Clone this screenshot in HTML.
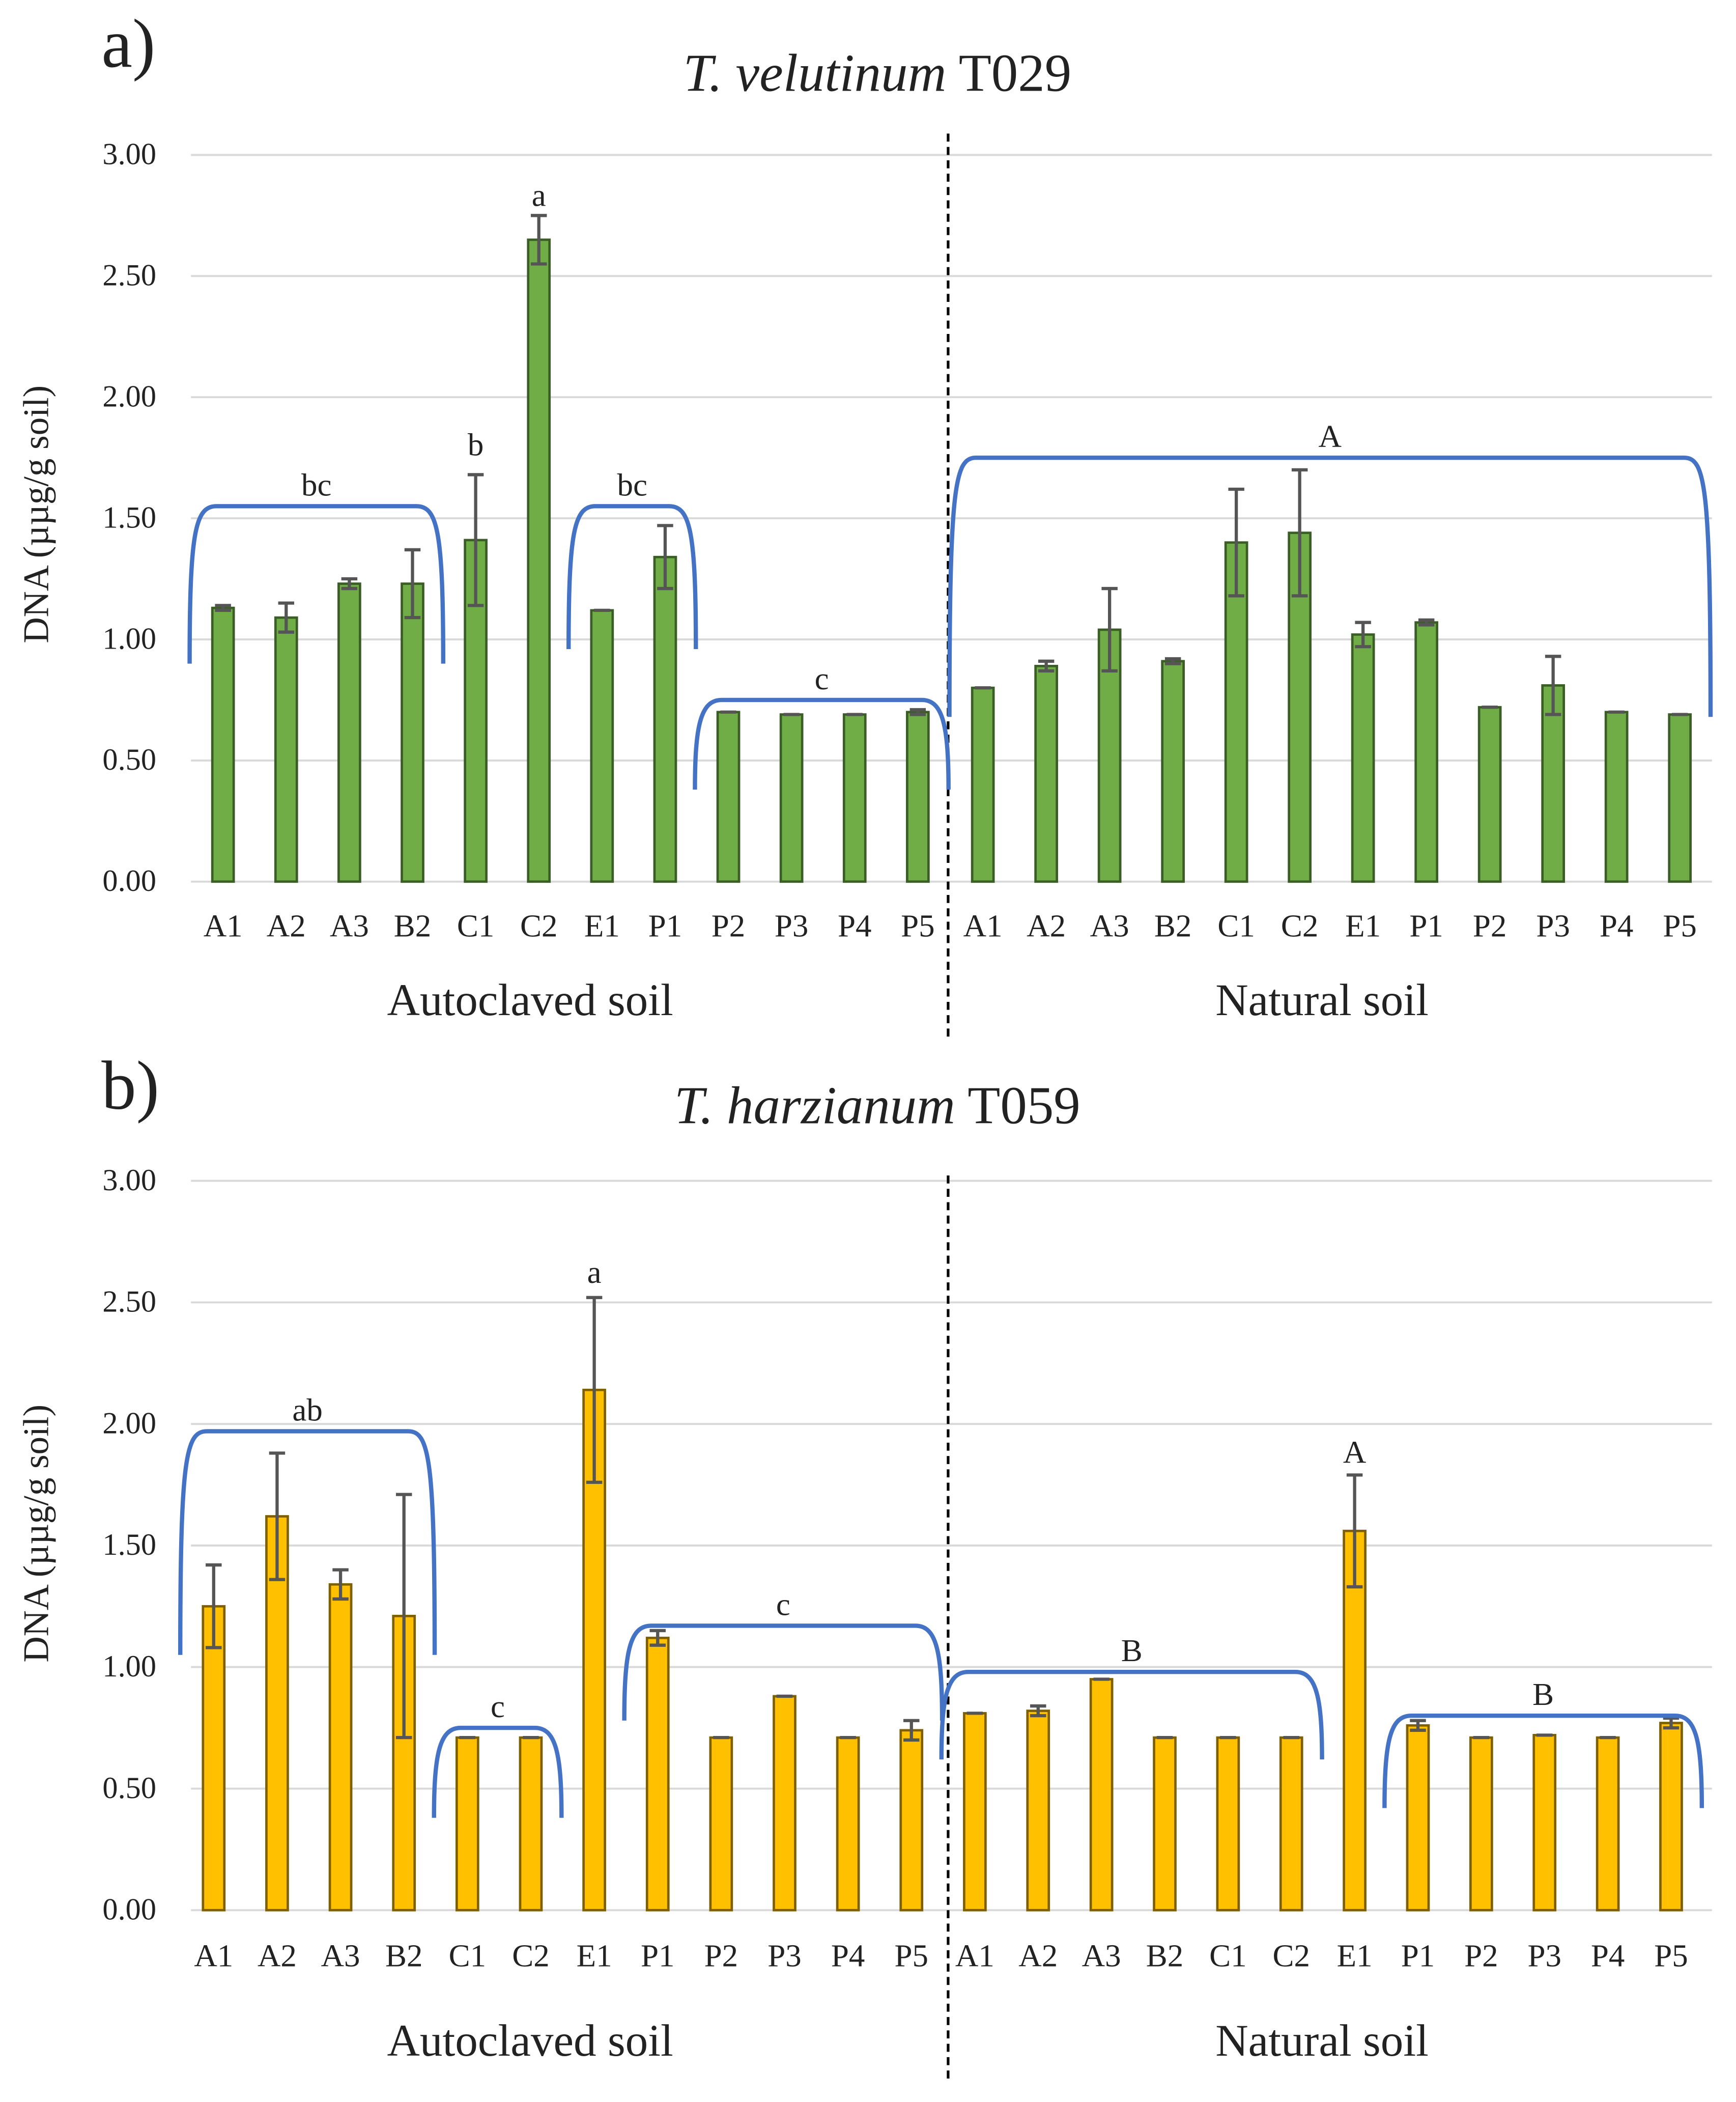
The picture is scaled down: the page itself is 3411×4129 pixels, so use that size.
<!DOCTYPE html>
<html><head><meta charset="utf-8"><style>
html,body{margin:0;padding:0;background:#fff}
svg{display:block}
text{font-family:"Liberation Serif",serif;fill:#222}
</style></head><body>
<svg id="fig" width="3411" height="4129" viewBox="0 0 1300 1573.6" preserveAspectRatio="none" xmlns="http://www.w3.org/2000/svg"></svg>
<script>
const categories = ["A1","A2","A3","B2","C1","C2","E1","P1","P2","P3","P4","P5"];
const yTicks = [0,0.5,1,1.5,2,2.5,3];
const tickLabels = ["0.00","0.50","1.00","1.50","2.00","2.50","3.00"];
const aAutoVals = [1.13,1.09,1.23,1.23,1.41,2.65,1.12,1.34,0.70,0.69,0.69,0.70];
const aAutoErr  = [0.01,0.06,0.02,0.14,0.27,0.10,0.00,0.13,0.00,0.00,0.00,0.01];
const aNatVals  = [0.80,0.89,1.04,0.91,1.40,1.44,1.02,1.07,0.72,0.81,0.70,0.69];
const aNatErr   = [0.00,0.02,0.17,0.01,0.22,0.26,0.05,0.01,0.00,0.12,0.00,0.00];
const bAutoVals = [1.25,1.62,1.34,1.21,0.71,0.71,2.14,1.12,0.71,0.88,0.71,0.74];
const bAutoErr  = [0.17,0.26,0.06,0.50,0.00,0.00,0.38,0.03,0.00,0.00,0.00,0.04];
const bNatVals  = [0.81,0.82,0.95,0.71,0.71,0.71,1.56,0.76,0.71,0.72,0.71,0.77];
const bNatErr   = [0.00,0.02,0.00,0.00,0.00,0.00,0.23,0.02,0.00,0.00,0.00,0.02];
// brackets: [group, startIdx, endIdx, topValue, bottomValue, label]
const aBrackets = [["auto",0,3,1.55,0.90,"bc"],["auto",6,7,1.55,0.96,"bc"],["auto",8,11,0.75,0.38,"c"],["nat",0,11,1.75,0.68,"A"]];
const bBrackets = [["auto",0,3,1.97,1.05,"ab"],["auto",4,5,0.75,0.38,"c"],["auto",7,11,1.17,0.78,"c"],["nat",0,5,0.98,0.62,"B"],["nat",7,11,0.80,0.42,"B"]];
// single letters: [group, idx, value, label]
const aLetters = [["auto",5,2.79,"a"],["auto",4,1.76,"b"]];
const bLetters = [["auto",6,2.58,"a"],["nat",6,1.84,"A"]];

const NS="http://www.w3.org/2000/svg";
const svg=document.getElementById('fig');
function mk(tag,attrs,parent){const e=document.createElementNS(NS,tag);for(const k in attrs)e.setAttribute(k,attrs[k]);(parent||svg).appendChild(e);return e;}
function txt(s,attrs,parent){const e=mk('text',attrs,parent);e.textContent=s;return e;}

function panel(cfg){
  const g=mk('g',{});
  
  
  const y=v=>cfg.y0-(cfg.y0-cfg.y3)*v/3;
  const xa=i=>cfg.autoX0+i*cfg.autoStep;
  const xn=i=>cfg.natX0+i*cfg.natStep;
  const xf=(grp,i)=>grp==="auto"?xa(i):xn(i);
  yTicks.forEach((t,i)=>{
    const l=mk('line',{x1:143,x2:1282,y1:y(t),y2:y(t),stroke:'#d9d9d9','stroke-width':1.5},g);
    
    
    const tl=txt(tickLabels[i],{x:117,y:y(t)+7,'text-anchor':'end','font-size':23},g);
    
    
  });
  const dv=mk('line',{x1:710,x2:710,y1:cfg.divTop,y2:cfg.divBot,stroke:'#000','stroke-width':2,'stroke-dasharray':'6,4'},g);
  
  
  function bars(vals,errs,xfn,grp){
    vals.forEach((v,i)=>{
      const x=xfn(i);
      const r=mk('rect',{x:x-8,y:y(v),width:16,height:y(0)-y(v),fill:cfg.fill,stroke:cfg.stroke,'stroke-width':1.8},g);
      
      
      const e=errs[i];
      const eg=mk('path',{d:`M${x},${y(v+e)}V${y(v-e)}M${x-6},${y(v+e)}H${x+6}M${x-6},${y(v-e)}H${x+6}`,stroke:'#555','stroke-width':2.4,fill:'none'},g);
      
      
      const cl=txt(categories[i],{x:x,y:cfg.catY,'text-anchor':'middle','font-size':24},g);
      
      
    });
  }
  bars(cfg.autoVals,cfg.autoErr,xa,'autoclaved');
  bars(cfg.natVals,cfg.natErr,xn,'natural');
  cfg.brackets.forEach(b=>{
    const x0=xf(b[0],b[1])-25, x1=xf(b[0],b[2])+23, yt=y(b[3]), yb=y(b[4]);
    const p=mk('path',{d:`M${x0},${yb} C${x0},${yt+20} ${x0+4},${yt} ${x0+20},${yt} L${x1-20},${yt} C${x1-4},${yt} ${x1},${yt+20} ${x1},${yb}`,stroke:'#4472c4','stroke-width':3.2,fill:'none'},g);
    
    
    const t=txt(b[5],{x:(x0+x1)/2,y:yt-8,'text-anchor':'middle','font-size':24},g);
    
    
  });
  cfg.letters.forEach(l=>{
    const t=txt(l[3],{x:xf(l[0],l[1]),y:y(l[2]),'text-anchor':'middle','font-size':24},g);
    
    
  });
  const ga=txt('Autoclaved soil',{x:397,y:cfg.grpY,'text-anchor':'middle','font-size':34},g);
  
  
  const gn=txt('Natural soil',{x:990,y:cfg.grpY,'text-anchor':'middle','font-size':34},g);
  
  
  const yt=txt('DNA (µµg/g soil)',{x:0,y:0,'text-anchor':'middle','font-size':27,transform:`translate(36,${cfg.yTitleY}) rotate(-90)`},g);
  
  
  const ti=mk('text',{x:657,y:cfg.titleY,'text-anchor':'middle','font-size':40},g);
  
  
  const it=mk('tspan',{'font-style':'italic'},ti);it.textContent=cfg.species;
  const nt=mk('tspan',{},ti);nt.textContent=cfg.strain;
  const pl=txt(cfg.panelLabel,{x:76,y:cfg.panelY,'font-size':52},g);
  
  
}
panel({name:'chart-a',y0:660,y3:116,autoX0:167,autoStep:47.3,natX0:736,natStep:47.45,catY:701,grpY:760,divTop:100,divBot:778,
  fill:'#70ad47',stroke:'#3b5e27',autoVals:aAutoVals,autoErr:aAutoErr,natVals:aNatVals,natErr:aNatErr,
  brackets:aBrackets,letters:aLetters,yTitleY:385,titleY:68,species:'T. velutinum',strain:' T029',panelLabel:'a)',panelY:50});
panel({name:'chart-b',y0:1430,y3:884,autoX0:160,autoStep:47.5,natX0:730,natStep:47.4,catY:1472,grpY:1539,divTop:880,divBot:1560,
  fill:'#ffc000',stroke:'#7f6000',autoVals:bAutoVals,autoErr:bAutoErr,natVals:bNatVals,natErr:bNatErr,
  brackets:bBrackets,letters:bLetters,yTitleY:1148,titleY:841,species:'T. harzianum',strain:' T059',panelLabel:'b)',panelY:830});
</script>
</body></html>
